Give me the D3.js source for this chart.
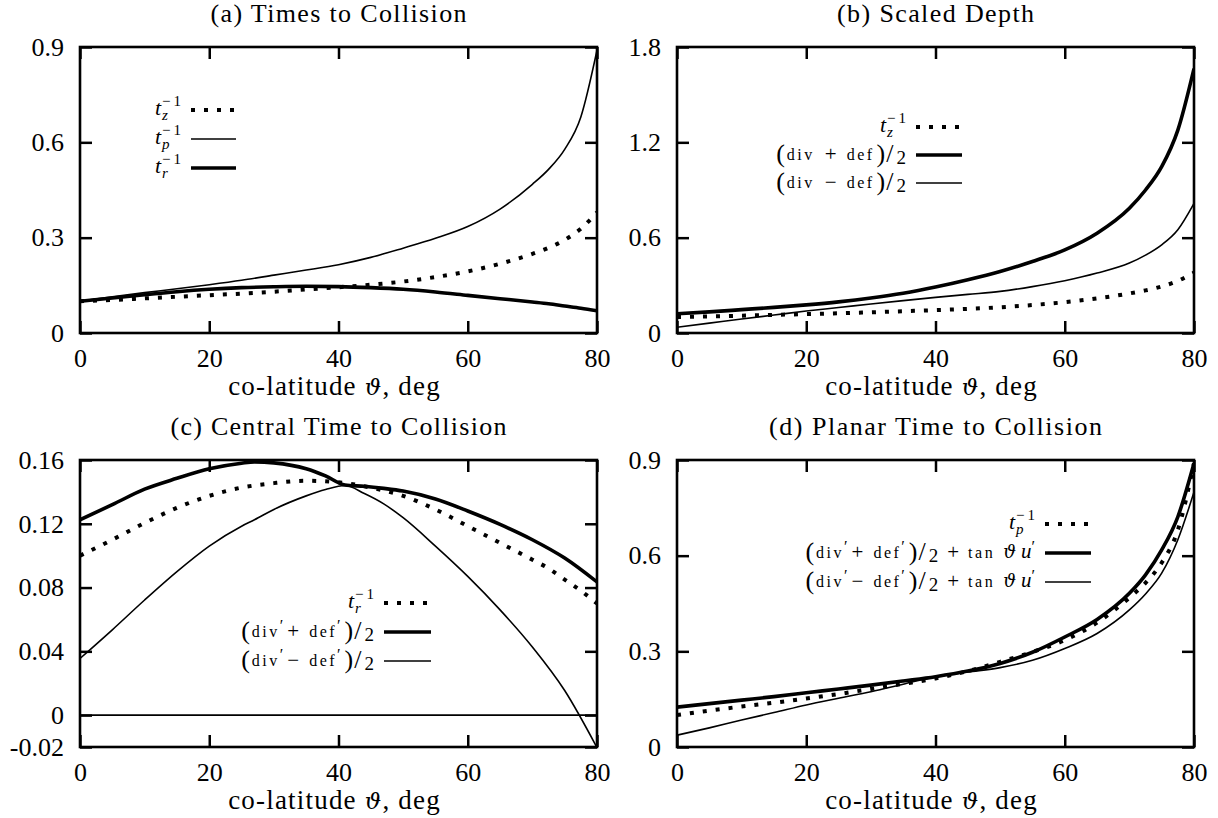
<!DOCTYPE html>
<html><head><meta charset="utf-8">
<script src="https://cdn.jsdelivr.net/npm/d3@7"></script>
<style>
body{margin:0;background:#fff}
svg{display:block}
</style>
</head><body>
<svg id="chart" width="1218" height="818"></svg>
<script>
// ---------------- data ----------------
const theta = [0,5,10,15,20,25,30,35,40,45,50,55,60,65,70,72.5,75,77.5,80];
const tzInv = [0.100,0.104,0.109,0.114,0.119,0.124,0.130,0.137,0.144,0.152,0.162,0.176,0.194,0.218,0.249,0.268,0.293,0.328,0.380];
const tpInv = [0.100,0.114,0.127,0.139,0.152,0.166,0.182,0.198,0.215,0.238,0.267,0.298,0.335,0.390,0.468,0.515,0.578,0.680,0.890];
const trInv = [0.100,0.110,0.1205,0.130,0.1375,0.1427,0.1455,0.147,0.146,0.1427,0.1375,0.129,0.1185,0.108,0.0975,0.092,0.085,0.078,0.070];
const depthPlus  = [0.121,0.133,0.147,0.161,0.177,0.196,0.220,0.250,0.289,0.335,0.387,0.450,0.523,0.628,0.785,0.900,1.047,1.277,1.664];
const depthMinus = [0.036,0.062,0.088,0.113,0.138,0.160,0.183,0.204,0.224,0.243,0.262,0.292,0.329,0.377,0.440,0.490,0.555,0.650,0.816];
const thetaC = [0,5,10,15,20,25,27,30,35,38,41,44,47,50,55,60,65,70,75,80];
const centralPlus  = [0.1225,0.132,0.1417,0.1485,0.1545,0.158,0.1588,0.1582,0.1545,0.150,0.1443,0.1435,0.1422,0.1405,0.1355,0.128,0.1196,0.110,0.0985,0.0835];
const centralMinus = [0.0355,0.0535,0.0722,0.090,0.106,0.1185,0.1225,0.129,0.1375,0.1415,0.1440,0.139,0.1325,0.1238,0.106,0.087,0.066,0.0427,0.0154,-0.0204];
const planarPlus  = [0.125,0.136,0.147,0.158,0.170,0.182,0.194,0.207,0.2205,0.238,0.262,0.297,0.345,0.400,0.482,0.540,0.618,0.722,0.890];
const planarMinus = [0.037,0.060,0.0847,0.108,0.132,0.153,0.1735,0.197,0.2205,0.235,0.249,0.272,0.309,0.356,0.430,0.480,0.545,0.650,0.800];

const xTicks = [0,20,40,60,80];
const xTickLabels = ["0","20","40","60","80"];
const yTicksA = [0,0.3,0.6,0.9],  yLabelsA = ["0","0.3","0.6","0.9"];
const yTicksB = [0,0.6,1.2,1.8],  yLabelsB = ["0","0.6","1.2","1.8"];
const yTicksC = [-0.02,0,0.04,0.08,0.12,0.16], yLabelsC = ["-0.02","0","0.04","0.08","0.12","0.16"];
const yTicksD = [0,0.3,0.6,0.9],  yLabelsD = ["0","0.3","0.6","0.9"];
const titles = ["(a) Times to Collision","(b) Scaled Depth","(c) Central Time to Collision","(d) Planar Time to Collision"];
const xTitle = ["co-latitude ", "\u03D1", ", deg"];

const SERIF = "Liberation Serif, DejaVu Serif, serif";

// ---------------- legend label builders ----------------
function tInv(sub){ return [
  {t:"t", s:22, it:true, y:5, gap:1},
  {t:sub, s:15, it:true, y:10},
  {t:"\u2212\u20091", s:15, y:-4, stack:true}
];}
function divDef(sign, prime, extra){
  const pr = () => prime ? [{t:"\u2032", s:16, y:-1, gap:4}] : [];
  let a = [
    {t:"(", s:26, y:7, gap:2},
    {t:"div", s:16, y:5, ls:2.5, gap:prime?0:10},
    ...pr(),
    {t:sign, s:21, y:6, gap:10},
    {t:"def", s:16, y:5, ls:2.5, gap:prime?0:2},
    ...pr(),
    {t:")", s:26, y:7, gap:1},
    {t:"/", s:26, y:7, gap:3},
    {t:"2", s:19, y:9, gap:0}
  ];
  if (extra){
    a = a.concat([
      {t:"+", s:21, y:6, gap:9, pre:9},
      {t:"tan", s:16, y:5, ls:2.5, gap:8},
      {t:"\u03D1", s:18, it:true, y:5, gap:5, fam:"DejaVu Serif"},
      {t:"u", s:21, it:true, y:5, gap:0},
      {t:"\u2032", s:16, y:-1, gap:0}
    ]);
  }
  return a;
}

// ---------------- panels ----------------
const panels = [
  {x0:80,x1:597,y0:47,y1:333, yd:[0,0.9], yt:yTicksA, yl:yLabelsA, title:titles[0],
   series:[{x:theta,y:tzInv,st:"dot"},{x:theta,y:tpInv,st:"thin"},{x:theta,y:trInv,st:"thick"}],
   leg:{s0:191,s1:236,rows:[110,139,168]},
   labels:[tInv("z"),tInv("p"),tInv("r")], legSt:["dot","thin","thick"], tw:256},
  {x0:677,x1:1194,y0:47,y1:333, yd:[0,1.8], yt:yTicksB, yl:yLabelsB, title:titles[1],
   series:[{x:theta,y:tzInv,st:"dot"},{x:theta,y:depthPlus,st:"thick"},{x:theta,y:depthMinus,st:"thin"}],
   leg:{s0:916,s1:962,rows:[127,155,183]},
   labels:[tInv("z"),divDef("+",false,false),divDef("\u2212",false,false)], legSt:["dot","thick","thin"], tw:197},
  {x0:80,x1:597,y0:460,y1:747, yd:[-0.02,0.16], yt:yTicksC, yl:yLabelsC, title:titles[2], zero:true,
   series:[{x:theta,y:trInv,st:"dot"},{x:thetaC,y:centralPlus,st:"thick"},{x:thetaC,y:centralMinus,st:"thin"}],
   leg:{s0:384,s1:431,rows:[603,632,661]},
   labels:[tInv("r"),divDef("+",true,false),divDef("\u2212",true,false)], legSt:["dot","thick","thin"], tw:336},
  {x0:677,x1:1194,y0:460,y1:747, yd:[0,0.9], yt:yTicksD, yl:yLabelsD, title:titles[3],
   series:[{x:theta,y:tpInv,st:"dot"},{x:theta,y:planarPlus,st:"thick"},{x:theta,y:planarMinus,st:"thin"}],
   leg:{s0:1045,s1:1091,rows:[524,553,582]},
   labels:[tInv("p"),divDef("+",true,true),divDef("\u2212",true,true)], legSt:["dot","thick","thin"], tw:333}
];

const styles = {
  dot:  {w:4,   dash:"4 9"},
  thin: {w:1.6, dash:null},
  thick:{w:3.6, dash:null}
};

const svg = d3.select("#chart").attr("font-family", SERIF);
const FS = 26;

// one <text> per legend label; pieces laid out as tspans
function mathLabel(g, pieces, rightX, baseY){
  const grp = g.append("g");
  const txt = grp.append("text").attr("font-family", SERIF).attr("font-size", 15).attr("fill","#000");
  let cx = 0, stackStart = 0;
  pieces.forEach(p => {
    if (p.pre) cx += p.pre;
    const sx = p.stack ? stackStart : cx;
    const t = txt.append("tspan").attr("x", sx).attr("y", p.y||0)
      .attr("font-family", p.fam || SERIF)
      .attr("font-size", p.s).attr("font-style", p.it ? "italic" : "normal")
      .attr("letter-spacing", p.ls||0).text(p.t);
    const w = t.node().getComputedTextLength();
    if (!p.stack) stackStart = sx;
    cx = Math.max(cx, sx + w + (p.gap||0));
  });
  grp.attr("transform", `translate(${rightX - cx},${baseY})`);
}

panels.forEach((P, i) => {
  const x = d3.scaleLinear().domain([0,80]).range([P.x0,P.x1]);
  const y = d3.scaleLinear().domain(P.yd).range([P.y1,P.y0]);
  const g = svg.append("g");

  const clipId = "clip"+i;
  svg.append("clipPath").attr("id",clipId).append("rect")
    .attr("x",P.x0).attr("y",P.y0).attr("width",P.x1-P.x0).attr("height",P.y1-P.y0);

  // axes
  const ax = g.append("g").attr("transform",`translate(0,${P.y1})`)
    .call(d3.axisBottom(x).tickValues(xTicks).tickFormat((d,k)=>xTickLabels[k]).tickSize(-12).tickSizeOuter(0).tickPadding(16));
  const axT = g.append("g").attr("transform",`translate(0,${P.y0})`)
    .call(d3.axisTop(x).tickValues(xTicks).tickFormat("").tickSize(-12).tickSizeOuter(0));
  const ay = g.append("g").attr("transform",`translate(${P.x0},0)`)
    .call(d3.axisLeft(y).tickValues(P.yt).tickFormat((d,k)=>P.yl[k]).tickSize(-12).tickSizeOuter(0).tickPadding(16));
  const ayR = g.append("g").attr("transform",`translate(${P.x1},0)`)
    .call(d3.axisRight(y).tickValues(P.yt).tickFormat("").tickSize(-12).tickSizeOuter(0));
  [ax,axT,ay,ayR].forEach(a=>{
    a.attr("font-family", SERIF);
    a.select(".domain").remove();
    a.selectAll(".tick line").attr("stroke","#000").attr("stroke-width",2.5);
    a.selectAll(".tick text").attr("font-size",FS).attr("font-family",SERIF).attr("fill","#000");
  });

  // frame
  g.append("rect").attr("x",P.x0).attr("y",P.y0).attr("width",P.x1-P.x0).attr("height",P.y1-P.y0)
    .attr("fill","none").attr("stroke","#000").attr("stroke-width",2.6);

  // zero line
  if (P.zero){
    g.append("line").attr("x1",x(0)).attr("x2",x(80)).attr("y1",y(0)).attr("y2",y(0))
      .attr("stroke","#000").attr("stroke-width",1.8);
  }

  // curves
  const cg = g.append("g").attr("clip-path",`url(#${clipId})`);
  P.series.forEach(S => {
    const pts = S.x.map((v,k)=>[v,S.y[k]]);
    const line = d3.line().x(d=>x(d[0])).y(d=>y(d[1])).curve(d3.curveMonotoneX);
    const st = styles[S.st];
    cg.append("path").attr("d",line(pts)).attr("fill","none").attr("stroke","#000")
      .attr("stroke-width",st.w).attr("stroke-dasharray",st.dash).attr("stroke-linejoin","round");
  });

  // title
  g.append("text").attr("x",(P.x0+P.x1)/2).attr("y",P.y0-25).attr("text-anchor","middle")
    .attr("font-family",SERIF).attr("fill","#000")
    .attr("font-size",FS).attr("textLength",P.tw).attr("lengthAdjust","spacing").text(P.title);

  // x-axis title
  const xt = g.append("text").attr("x",(P.x0+P.x1)/2 - 4).attr("y",P.y1+62).attr("text-anchor","middle")
    .attr("font-family",SERIF).attr("fill","#000").attr("font-size",FS+1).attr("letter-spacing",1.2);
  xt.append("tspan").text(xTitle[0]);
  xt.append("tspan").attr("font-style","italic").attr("font-family","DejaVu Serif").attr("font-size",FS-3).text(xTitle[1]);
  xt.append("tspan").text(xTitle[2]);

  // legend
  P.labels.forEach((lab,k)=>{
    const ry = P.leg.rows[k];
    mathLabel(g, lab, P.leg.s0-10, ry);
    const st = styles[P.legSt[k]];
    g.append("line").attr("x1",P.leg.s0).attr("x2",P.leg.s1).attr("y1",ry).attr("y2",ry)
      .attr("stroke","#000").attr("stroke-width",st.w).attr("stroke-dasharray",st.dash);
  });
});
</script>
</body></html>
